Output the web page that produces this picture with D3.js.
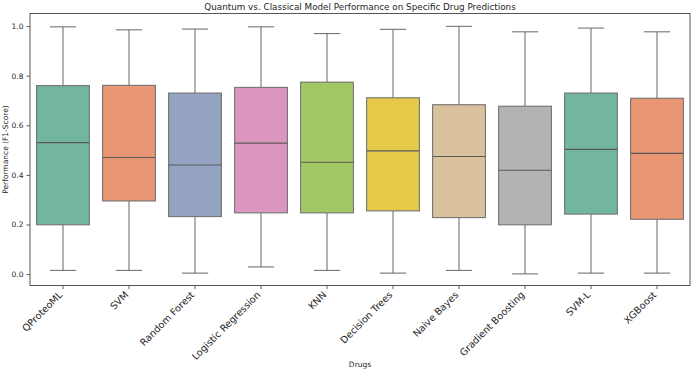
<!DOCTYPE html>
<html>
<head>
<meta charset="utf-8">
<script src="https://cdn.jsdelivr.net/npm/d3@7"></script>
<style>
  body { margin: 0; background: #fff; }
  text { font-family: "DejaVu Sans", sans-serif; fill: #262626; }
</style>
</head>
<body>
<div id="chart"></div>
<script>
// model names along the x axis
const models = ["QProteoML", "SVM", "Random Forest", "Logistic Regression", "KNN",
  "Decision Trees", "Naive Bayes", "Gradient Boosting", "SVM-L", "XGBoost"];

// box statistics
const whiskerLow  = [0.015, 0.015, 0.004, 0.029, 0.015, 0.004, 0.015, 0.001, 0.004, 0.004];
const q1          = [0.199, 0.295, 0.232, 0.247, 0.247, 0.255, 0.228, 0.199, 0.242, 0.221];
const median      = [0.530, 0.470, 0.440, 0.528, 0.451, 0.497, 0.474, 0.419, 0.503, 0.487];
const q3          = [0.760, 0.761, 0.730, 0.753, 0.774, 0.711, 0.683, 0.677, 0.730, 0.709];
const whiskerHigh = [0.997, 0.985, 0.988, 0.997, 0.970, 0.987, 0.999, 0.977, 0.992, 0.977];

const yTicks = [0.0, 0.2, 0.4, 0.6, 0.8, 1.0];

// Set2 palette, seaborn desaturates it to 0.75
const set2 = ["#66c2a5", "#fc8d62", "#8da0cb", "#e78ac3", "#a6d854",
  "#ffd92f", "#e5c494", "#b3b3b3", "#66c2a5", "#fc8d62"];

const data = models.map((m, i) => ({
  model: m, lo: whiskerLow[i], q1: q1[i], med: median[i], q3: q3[i], hi: whiskerHigh[i]
}));

function desat(c) {
  const h = d3.hsl(c);
  h.s = h.s * 0.75;
  return h.formatHex();
}

const margin = {top: 13.5, right: 6, bottom: 87.5, left: 30},
  width = 696 - margin.left - margin.right,
  height = 373 - margin.top - margin.bottom;

const svg = d3.select("#chart")
  .append("svg")
  .attr("width", width + margin.left + margin.right)
  .attr("height", height + margin.top + margin.bottom)
  .append("g")
  .attr("transform", "translate(" + margin.left + "," + margin.top + ")");

const x = d3.scaleBand()
  .domain(models)
  .range([0, width]);

const y = d3.scaleLinear()
  .domain([-0.0459, 1.0508])
  .range([height, 0]);

const lineColor = "#737373";
const boxW = x.bandwidth() * 0.8;
const capW = x.bandwidth() * 0.4;

const boxes = svg.selectAll(".box")
  .data(data)
  .join("g")
  .attr("class", "box")
  .attr("transform", d => `translate(${x(d.model) + x.bandwidth() / 2},0)`);

// whiskers
boxes.append("line")
  .attr("x1", 0).attr("x2", 0)
  .attr("y1", d => y(d.hi)).attr("y2", d => y(d.q3))
  .attr("stroke", lineColor).attr("stroke-width", 1.1);
boxes.append("line")
  .attr("x1", 0).attr("x2", 0)
  .attr("y1", d => y(d.q1)).attr("y2", d => y(d.lo))
  .attr("stroke", lineColor).attr("stroke-width", 1.1);

// caps
boxes.selectAll(".cap")
  .data(d => [d.hi, d.lo])
  .join("line")
  .attr("class", "cap")
  .attr("x1", -capW / 2).attr("x2", capW / 2)
  .attr("y1", v => y(v)).attr("y2", v => y(v))
  .attr("stroke", lineColor).attr("stroke-width", 1.1);

// the boxes
boxes.append("rect")
  .attr("x", -boxW / 2)
  .attr("width", boxW)
  .attr("y", d => y(d.q3))
  .attr("height", d => y(d.q1) - y(d.q3))
  .attr("fill", (d, i) => desat(set2[i]))
  .attr("stroke", lineColor)
  .attr("stroke-width", 1.1);

// medians
boxes.append("line")
  .attr("x1", -boxW / 2).attr("x2", boxW / 2)
  .attr("y1", d => y(d.med)).attr("y2", d => y(d.med))
  .attr("stroke", "#5a5a5a").attr("stroke-width", 1.1);

// y axis
const yAxis = svg.append("g")
  .call(d3.axisLeft(y).tickValues(yTicks).tickFormat(d3.format(".1f")).tickSize(3.5).tickPadding(3));
yAxis.selectAll("text").style("font-size", "7.5px").style("font-family", "DejaVu Sans");

// x axis
const xAxis = svg.append("g")
  .attr("transform", `translate(0,${height})`)
  .call(d3.axisBottom(x).tickSize(3.5).tickPadding(2));
xAxis.selectAll("text")
  .style("font-size", "9.6px")
  .style("font-family", "DejaVu Sans")
  .style("text-anchor", "end")
  .attr("y", 0)
  .attr("dy", 0)
  .attr("transform", "translate(0,10) rotate(-45)");

svg.selectAll(".domain").remove();
svg.selectAll(".tick line").attr("stroke", "#333").attr("stroke-width", 0.8);

// frame
svg.append("rect")
  .attr("width", width).attr("height", height)
  .attr("fill", "none").attr("stroke", "#444").attr("stroke-width", 0.9);

// title and labels
svg.append("text")
  .attr("x", width / 2).attr("y", -4)
  .style("text-anchor", "middle")
  .style("font-size", "8.8px")
  .text("Quantum vs. Classical Model Performance on Specific Drug Predictions");

svg.append("text")
  .attr("x", width / 2).attr("y", height + 81)
  .style("text-anchor", "middle")
  .style("font-size", "7.5px")
  .text("Drugs");

svg.append("text")
  .attr("transform", `translate(-22,${height / 2}) rotate(-90)`)
  .style("text-anchor", "middle")
  .style("font-size", "7.5px")
  .text("Performance (F1-Score)");
</script>
</body>
</html>
